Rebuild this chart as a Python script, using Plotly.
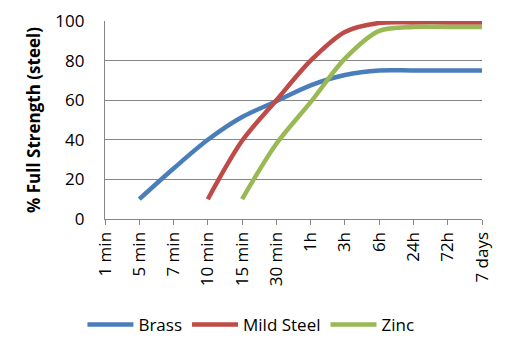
import plotly.graph_objects as go

categories = ["1 min", "5 min", "7 min", "10 min", "15 min", "30 min",
              "1h", "3h", "6h", "24h", "72h", "7 days"]
brass = [None, 10, 25.5, 40, 51.5, 59.5, 67.5, 72.7, 75, 75, 75, 75]
mild_steel = [None, None, None, 10, 39.5, 60, 80, 94.5, 99, 99.3, 99.3, 99.3]
zinc = [None, None, None, None, 10, 38, 59, 81, 95, 97, 97, 97]

series = [("Brass", brass, "#4a7ebb"),
          ("Mild Steel", mild_steel, "#be4b48"),
          ("Zinc", zinc, "#98b954")]

font_family = "Open Sans, Liberation Sans, sans-serif"
fig = go.Figure()
for name, vals, color in series:
    fig.add_trace(go.Scatter(
        x=list(range(len(categories))), y=vals, name=name, mode="lines",
        line=dict(color=color, width=4.5, shape="spline", smoothing=0.9),
        connectgaps=False))

fig.update_layout(
    width=509, height=345,
    margin=dict(l=105, r=27, t=21, b=126, autoexpand=False),
    paper_bgcolor="white", plot_bgcolor="white",
    font=dict(family=font_family, size=17, color="#000000"),
    showlegend=True,
    legend=dict(orientation="h", xref="container", yref="container",
                x=0.493, xanchor="center", y=0.058,
                yanchor="middle", font=dict(size=17), itemwidth=46,
                tracegroupgap=0),
    xaxis=dict(
        range=[0, 11], tickmode="array",
        tickvals=list(range(len(categories))), ticktext=categories,
        tickangle=-90, ticks="outside", ticklen=5, tickcolor="#868686",
        tickfont=dict(size=17),
        showline=True, linecolor="#868686", linewidth=1.3,
        showgrid=False, zeroline=False, fixedrange=True, automargin=False),
    yaxis=dict(
        range=[0, 100], dtick=20, tickmode="linear", tick0=0,
        showgrid=True, gridcolor="#868686", gridwidth=1.3,
        showline=True, linecolor="#868686", linewidth=1.3,
        zeroline=False, ticks="", ticklabelstandoff=16,
        tickfont=dict(size=17), automargin=False,
        title=dict(text="<b>% Full Strength (steel)</b>", standoff=10,
                   font=dict(size=17)),
        fixedrange=True),
)

fig.write_html("out.html")
